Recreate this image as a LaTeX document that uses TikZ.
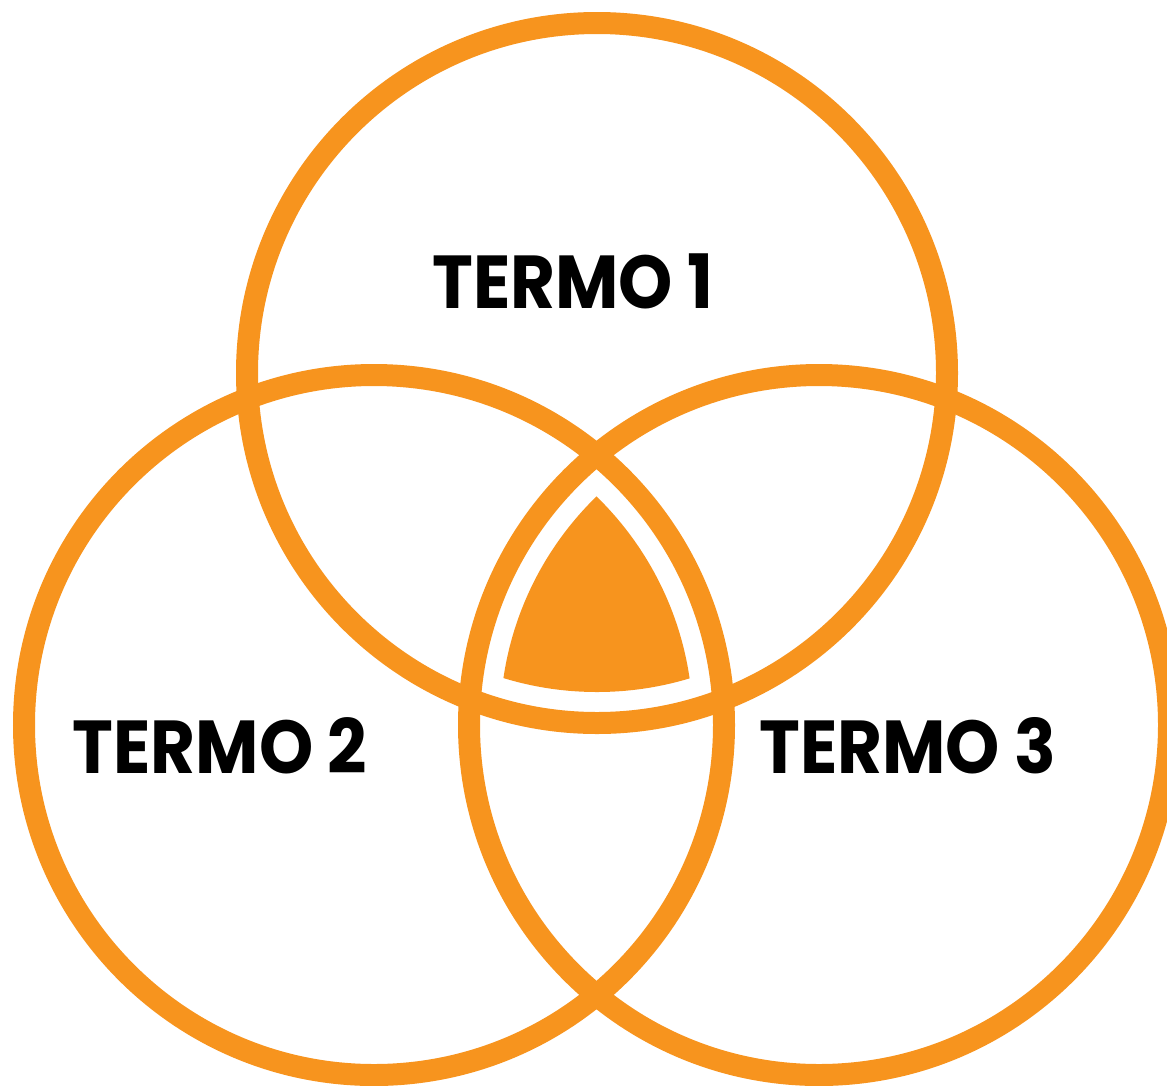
\documentclass[tikz,border=0pt]{standalone}
\usepackage{fontspec}
\setsansfont{Poppins}[FakeStretch=0.92]
\usepackage{xcolor}
\usepackage{tikz}
\definecolor{vennorange}{HTML}{F7941E}

\begin{document}
\begin{tikzpicture}[
  x=1pt, y=-1pt,
  font=\sffamily\bfseries\fontsize{75}{80}\selectfont,
  ring/.style={draw=vennorange, line width=22pt},
  term/.style={anchor=base, text=black, inner sep=0pt}
]
  \useasboundingbox (0,0) rectangle (1167,1085);
  \clip (0,0) rectangle (1167,1085);

  % Centres of the three sets
  \coordinate (c1) at (597,373);
  \coordinate (c2) at (374,725);
  \coordinate (c3) at (819,725);

  % Common part, set back from the rings
  \begin{scope}
    \clip (c2) circle[radius=319pt];
    \clip (c3) circle[radius=319pt];
    \fill[vennorange] (c1) circle[radius=319pt];
  \end{scope}

  % Rings
  \foreach \c in {c1,c2,c3}
    \draw[ring] (\c) circle[radius=350pt];

  % Labels
  \node[term] (t1) at (573,308) {TERMO 1};
  \node[term] (t2) at (220,773) {TERMO 2};
  \node[term] (t3) at (908,773) {TERMO 3};
\end{tikzpicture}
\end{document}
